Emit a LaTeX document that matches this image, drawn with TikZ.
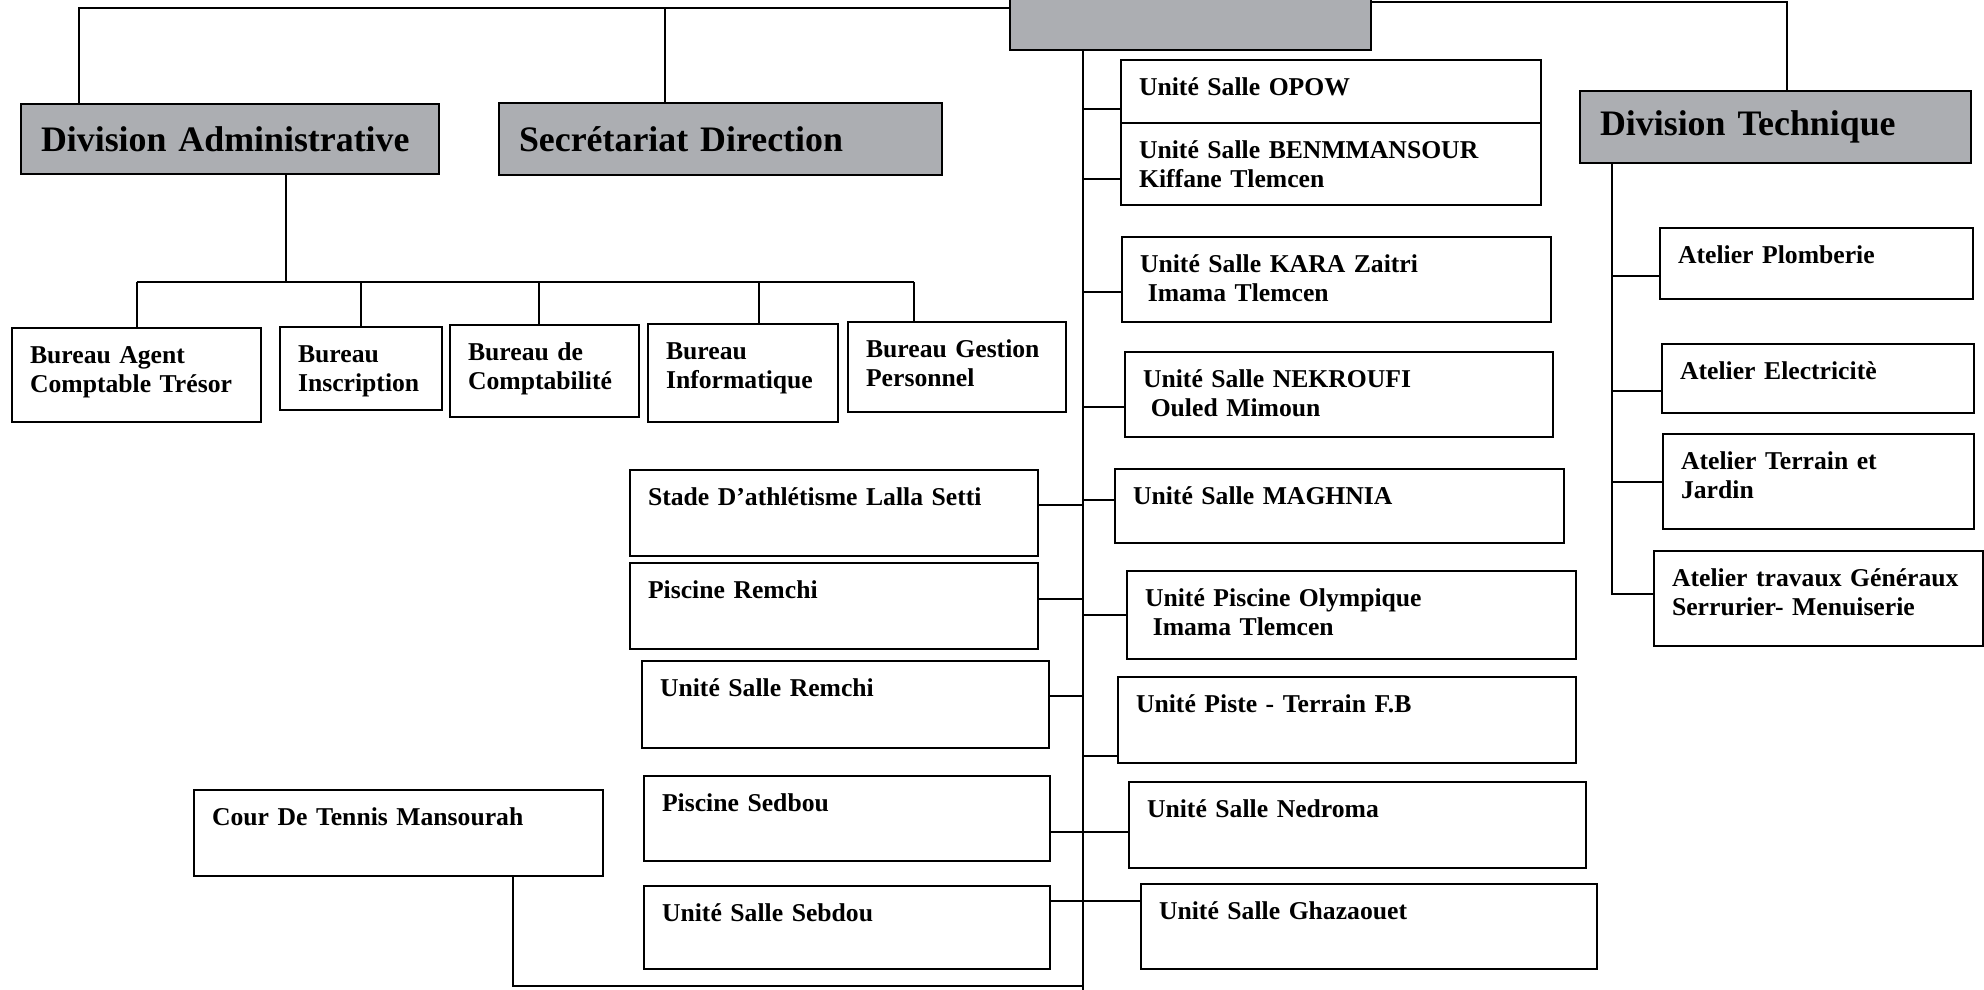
\documentclass[tikz,border=0pt]{standalone}
\usepackage{fontspec}
\setmainfont{Liberation Serif}
\hyphenpenalty=10000
\definecolor{grisent}{RGB}{172,174,178}

\begin{document}
\begin{tikzpicture}[x=1cm,y=-1cm]
\tikzset{boite/.style = {draw, line width=0.6pt, anchor=north west, align=left, inner xsep=0.18cm, inner ysep=0.12cm, text height=0.23cm, font=\fontsize{7.3}{8.3}\selectfont\bfseries},
         entete/.style = {draw, line width=0.6pt, fill=grisent, anchor=north west, align=left, inner xsep=0.2cm, font=\fontsize{10.2}{12}\selectfont\bfseries},
         lien/.style = {line width=0.6pt}}
\useasboundingbox (0,0) rectangle (19.84,9.89);
% en-tetes
\node[entete, minimum width=3.61cm, minimum height=0.54cm] (dg) at (10.09,-0.05) {};
\node[entete, text width=3.78cm, minimum height=0.70cm] (divadm) at (0.20,1.03) {Division Administrative};
\node[entete, text width=4.03cm, minimum height=0.72cm] (secdir) at (4.98,1.02) {Secrétariat Direction};
\node[entete, text width=3.51cm, minimum height=0.72cm] (divtech) at (15.79,0.90) {Division Technique};
% boites
\foreach \nom/\x/\y/\w/\h/\txt in {
    agent/0.11/3.27/2.49/0.94/{Bureau Agent\\Comptable~Trésor},
    inscr/2.79/3.26/1.62/0.83/{Bureau\\Inscription},
    compta/4.49/3.24/1.89/0.92/{Bureau~de\\Comptabilité},
    info/6.47/3.23/1.90/0.98/{Bureau\\Informatique},
    gestion/8.47/3.21/2.18/0.90/{Bureau~Gestion\\Personnel},
    opow/11.20/0.59/4.20/0.63/{Unité Salle OPOW},
    benm/11.20/1.22/4.20/0.82/{Unité Salle BENMMANSOUR\\Kiffane Tlemcen},
    kara/11.21/2.36/4.29/0.85/{Unité Salle KARA Zaitri\\\hspace*{0.3em}Imama Tlemcen},
    nekroufi/11.24/3.51/4.28/0.85/{Unité Salle NEKROUFI\\\hspace*{0.3em}Ouled Mimoun},
    maghnia/11.14/4.68/4.49/0.74/{Unité Salle MAGHNIA},
    olymp/11.26/5.70/4.49/0.88/{Unité Piscine Olympique\\\hspace*{0.3em}Imama Tlemcen},
    piste/11.17/6.76/4.58/0.86/{Unité Piste - Terrain F.B},
    nedroma/11.28/7.81/4.57/0.86/{Unité Salle Nedroma},
    ghaz/11.40/8.83/4.56/0.85/{Unité Salle Ghazaouet},
    stade/6.29/4.69/4.08/0.86/{Stade D’athlétisme Lalla Setti},
    pisrem/6.29/5.62/4.08/0.86/{Piscine Remchi},
    salrem/6.41/6.60/4.07/0.87/{Unité Salle Remchi},
    pissed/6.43/7.75/4.06/0.85/{Piscine Sedbou},
    salseb/6.43/8.85/4.06/0.83/{Unité Salle Sebdou},
    tennis/1.93/7.89/4.09/0.86/{Cour De Tennis Mansourah},
    plomb/16.59/2.27/3.13/0.71/{Atelier Plomberie},
    elec/16.61/3.43/3.12/0.69/{Atelier Electricitè},
    terrain/16.62/4.33/3.11/0.95/{Atelier Terrain et\\Jardin},
    travaux/16.53/5.50/3.29/0.95/{Atelier~travaux~Généraux\\Serrurier- Menuiserie}} {
    \pgfmathsetmacro{\tw}{\w-0.36}
    \pgfmathsetmacro{\td}{\h-0.47}
    \node[boite, text width=\tw cm, text depth=\td cm] (\nom) at (\x,\y) {\txt};
}
% liaisons du haut
\draw[lien] (dg.west |- 0,0.08) -| ([xshift=0.59cm]divadm.north west);
\draw[lien] ([xshift=1.67cm]secdir.north west) -- ++(0,-0.94);
\draw[lien] (dg.east |- 0,0.02) -| ([xshift=2.08cm]divtech.north west);
% division administrative
\draw[lien] ([xshift=2.66cm]divadm.south west) -- ++(0,1.07) coordinate (bus);
\draw[lien] (agent.north |- bus) -- ++(7.775,0);
\foreach \b/\dx in {agent/0,inscr/0,compta/-0.06,info/0.16,gestion/-0.43} {
    \draw[lien] ([xshift=\dx cm]\b.north) coordinate (p) -- (p |- bus);
}
% tronc central
\draw[lien] ([xshift=0.74cm]dg.south west) coordinate (tronc) -- ++(0,9.4);
\foreach \u/\dy in {opow/-0.175,benm/-0.15,kara/-0.125,nekroufi/-0.125,maghnia/0.06,olymp/0,piste/-0.36} {
    \draw[lien] ([yshift=\dy cm]\u.west) coordinate (p) -- (tronc |- p);
}
\foreach \l/\dy in {stade/0.08,pisrem/0.07,salrem/0.085} {
    \draw[lien] ([yshift=\dy cm]\l.east) coordinate (p) -- (tronc |- p);
}
\draw[lien] ([yshift=-0.135cm]pissed.east) coordinate (p) -- (nedroma.west |- p);
\draw[lien] ([yshift=0.265cm]salseb.east) coordinate (p) -- (ghaz.west |- p);
\draw[lien] ([xshift=3.2cm]tennis.south west) |- (tronc |- 0,9.86);
% division technique
\draw[lien] ([xshift=0.33cm]divtech.south west) coordinate (dt) -- ++(0,4.31);
\foreach \a/\dy in {plomb/-0.125,elec/-0.125,terrain/0,travaux/0.045} {
    \draw[lien] ([yshift=\dy cm]\a.west) coordinate (p) -- (dt |- p);
}
\end{tikzpicture}
\end{document}
